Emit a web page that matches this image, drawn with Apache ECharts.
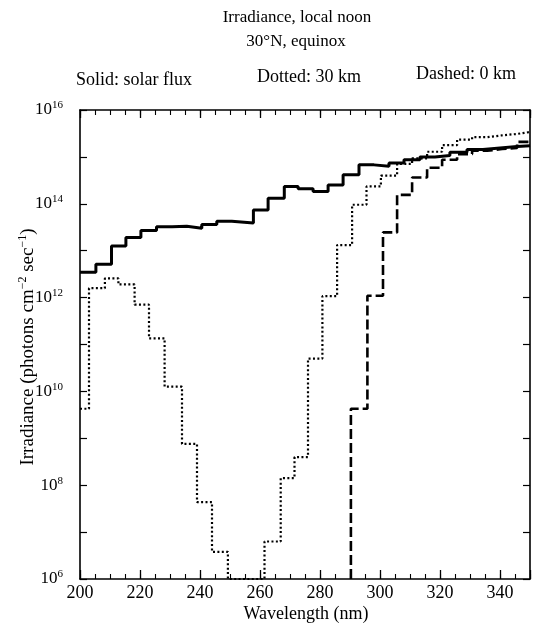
<!DOCTYPE html>
<html><head><meta charset="utf-8">
<script src="https://cdn.jsdelivr.net/npm/echarts@6/dist/echarts.min.js"></script>
<style>html,body{margin:0;padding:0;background:#fff}#c{width:533px;height:630px}</style>
</head><body><div id="c"></div>
<script>
// Wavelength bin left edges (nm) and log10 irradiance (photons cm^-2 s^-1)
const solidEdges = [200, 205.3, 210.5, 215.3, 220.3, 225.5, 230.7, 235.6, 240.6, 245.6, 250.6, 257.8, 262.7, 268.1, 272.7, 277.7, 282.7, 287.7, 293.0, 298.0, 303.0, 308.0, 313.3, 318.3, 323.3, 329.0, 334.3, 340.0, 345.7];
const solidLog = [12.54, 12.71, 13.10, 13.28, 13.43, 13.51, 13.52, 13.48, 13.56, 13.63, 13.59, 13.87, 14.12, 14.37, 14.32, 14.26, 14.40, 14.62, 14.83, 14.80, 14.87, 14.94, 15.00, 15.03, 15.10, 15.16, 15.19, 15.22, 15.24];

const dottedEdges = [200, 203.0, 208.3, 212.8, 218.2, 223.0, 228.2, 234.0, 239.0, 244.0, 249.3, 261.5, 266.9, 271.5, 276.0, 280.8, 285.7, 290.7, 295.5, 300.3, 305.7, 310.7, 315.7, 320.7, 325.7, 330.7, 335.7, 340.7, 345.7];
const dottedLog = [9.63, 12.20, 12.41, 12.28, 11.85, 11.13, 10.10, 8.88, 7.64, 6.58, 6, 6.80, 8.15, 8.60, 10.70, 12.03, 13.12, 13.98, 14.37, 14.60, 14.85, 14.97, 15.11, 15.25, 15.37, 15.42, 15.46, 15.49, 15.53];

const dashedEdges = [290.3, 290.3, 295.8, 301.0, 305.7, 310.7, 315.7, 320.7, 325.7, 330.7, 335.7, 340.7, 345.7];
const dashedLog = [6, 9.63, 12.04, 13.39, 14.19, 14.56, 14.77, 14.94, 15.06, 15.13, 15.17, 15.19, 15.32];

const xMin = 200, xMax = 350;
const yMinExp = 6, yMaxExp = 16;
const xTickLabels = [200, 220, 240, 260, 280, 300, 320, 340];
const yTickExps = [6, 8, 10, 12, 14, 16];

function steps(edges, vals, end) {
  const d = edges.map((x, i) => [x, vals[i]]);
  d.push([end, vals[vals.length - 1]]);
  return d;
}

const FONT = 'Liberation Serif';
const chart = echarts.init(document.getElementById('c'));

const baseX = {
  type: 'value', min: xMin, max: xMax, gridIndex: 0,
  splitLine: { show: false }
};
const baseY = {
  type: 'value', min: yMinExp, max: yMaxExp, interval: 1, gridIndex: 0,
  splitLine: { show: false }
};

function txt(t, x, y, size) {
  return { type: 'text', x: x, y: y, style: { text: t, fontFamily: FONT, fontSize: size, fill: '#000', textAlign: 'center', textVerticalAlign: 'middle' } };
}

chart.setOption({
  animation: false,
  backgroundColor: '#fff',
  grid: { left: 80, right: 3, top: 110, bottom: 51 },
  xAxis: [
    Object.assign({}, baseX, {
      position: 'bottom', interval: 20,
      axisLine: { show: true, lineStyle: { color: '#000', width: 1.6 } },
      axisTick: { show: true, inside: true, length: 9, lineStyle: { color: '#000', width: 1.3 } },
      axisLabel: {
        color: '#000', fontFamily: FONT, fontSize: 18, margin: 5,
        formatter: v => (xTickLabels.indexOf(v) >= 0 ? String(v) : '')
      }
    }),
    Object.assign({}, baseX, {
      position: 'bottom', interval: 5,
      axisLine: { show: false },
      axisTick: { show: true, inside: true, length: 5, lineStyle: { color: '#000', width: 1.1 } },
      axisLabel: { show: false }
    }),
    Object.assign({}, baseX, {
      position: 'top', interval: 20,
      axisLine: { show: true, lineStyle: { color: '#000', width: 1.6 } },
      axisTick: { show: true, inside: true, length: 8, lineStyle: { color: '#000', width: 1.3 } },
      axisLabel: { show: false }
    }),
    Object.assign({}, baseX, {
      position: 'top', interval: 5,
      axisLine: { show: false },
      axisTick: { show: true, inside: true, length: 5, lineStyle: { color: '#000', width: 1.1 } },
      axisLabel: { show: false }
    })
  ],
  yAxis: [
    Object.assign({}, baseY, {
      position: 'left',
      axisLine: { show: true, lineStyle: { color: '#000', width: 1.6 } },
      axisTick: { show: true, inside: true, length: 7, lineStyle: { color: '#000', width: 1.2 } },
      axisLabel: {
        color: '#000', fontFamily: FONT, margin: 17,
        formatter: v => (yTickExps.indexOf(v) >= 0 ? '{b|10}{s|' + v + '}' : ''),
        rich: {
          b: { fontSize: 17, fontFamily: FONT, color: '#000', lineHeight: 20 },
          s: { fontSize: 11, fontFamily: FONT, color: '#000', verticalAlign: 'top', lineHeight: 11 }
        }
      }
    }),
    Object.assign({}, baseY, {
      position: 'right',
      axisLine: { show: true, lineStyle: { color: '#000', width: 1.6 } },
      axisTick: { show: true, inside: true, length: 7, lineStyle: { color: '#000', width: 1.2 } },
      axisLabel: { show: false }
    })
  ],
  series: [
    {
      name: 'Solid: solar flux', type: 'line', step: 'end', xAxisIndex: 0, yAxisIndex: 0,
      data: steps(solidEdges, solidLog, xMax), showSymbol: false, symbol: 'none',
      lineStyle: { color: '#000', width: 3, type: 'solid' }, z: 3
    },
    {
      name: 'Dotted: 30 km', type: 'line', step: 'end', xAxisIndex: 0, yAxisIndex: 0,
      data: steps(dottedEdges, dottedLog, xMax), showSymbol: false, symbol: 'none',
      lineStyle: { color: '#000', width: 2.2, type: [2, 2.4] }, z: 2
    },
    {
      name: 'Dashed: 0 km', type: 'line', step: 'end', xAxisIndex: 0, yAxisIndex: 0,
      data: steps(dashedEdges, dashedLog, xMax), showSymbol: false, symbol: 'none',
      lineStyle: { color: '#000', width: 2.6, type: [10, 4] }, z: 2
    }
  ],
  graphic: [
    txt('Irradiance, local noon', 297, 18, 17),
    txt('30°N, equinox', 296, 42, 17),
    txt('Solid: solar flux', 134, 80, 18),
    txt('Dotted: 30 km', 309, 77, 18),
    txt('Dashed: 0 km', 466, 74, 18),
    txt('Wavelength (nm)', 306, 614, 18),
    { type: 'text', x: 28, y: 347, rotation: Math.PI / 2,
      style: {
        text: '{b|Irradiance (photons cm}{s|−2}{b| sec}{s|−1}{b|)}',
        fontFamily: FONT, fontSize: 19, fill: '#000', textAlign: 'center', textVerticalAlign: 'middle',
        rich: {
          b: { fontSize: 19, fontFamily: FONT, fill: '#000', lineHeight: 22 },
          s: { fontSize: 12, fontFamily: FONT, fill: '#000', verticalAlign: 'top', lineHeight: 12 }
        }
      }
    }
  ]
});
</script>
</body></html>
